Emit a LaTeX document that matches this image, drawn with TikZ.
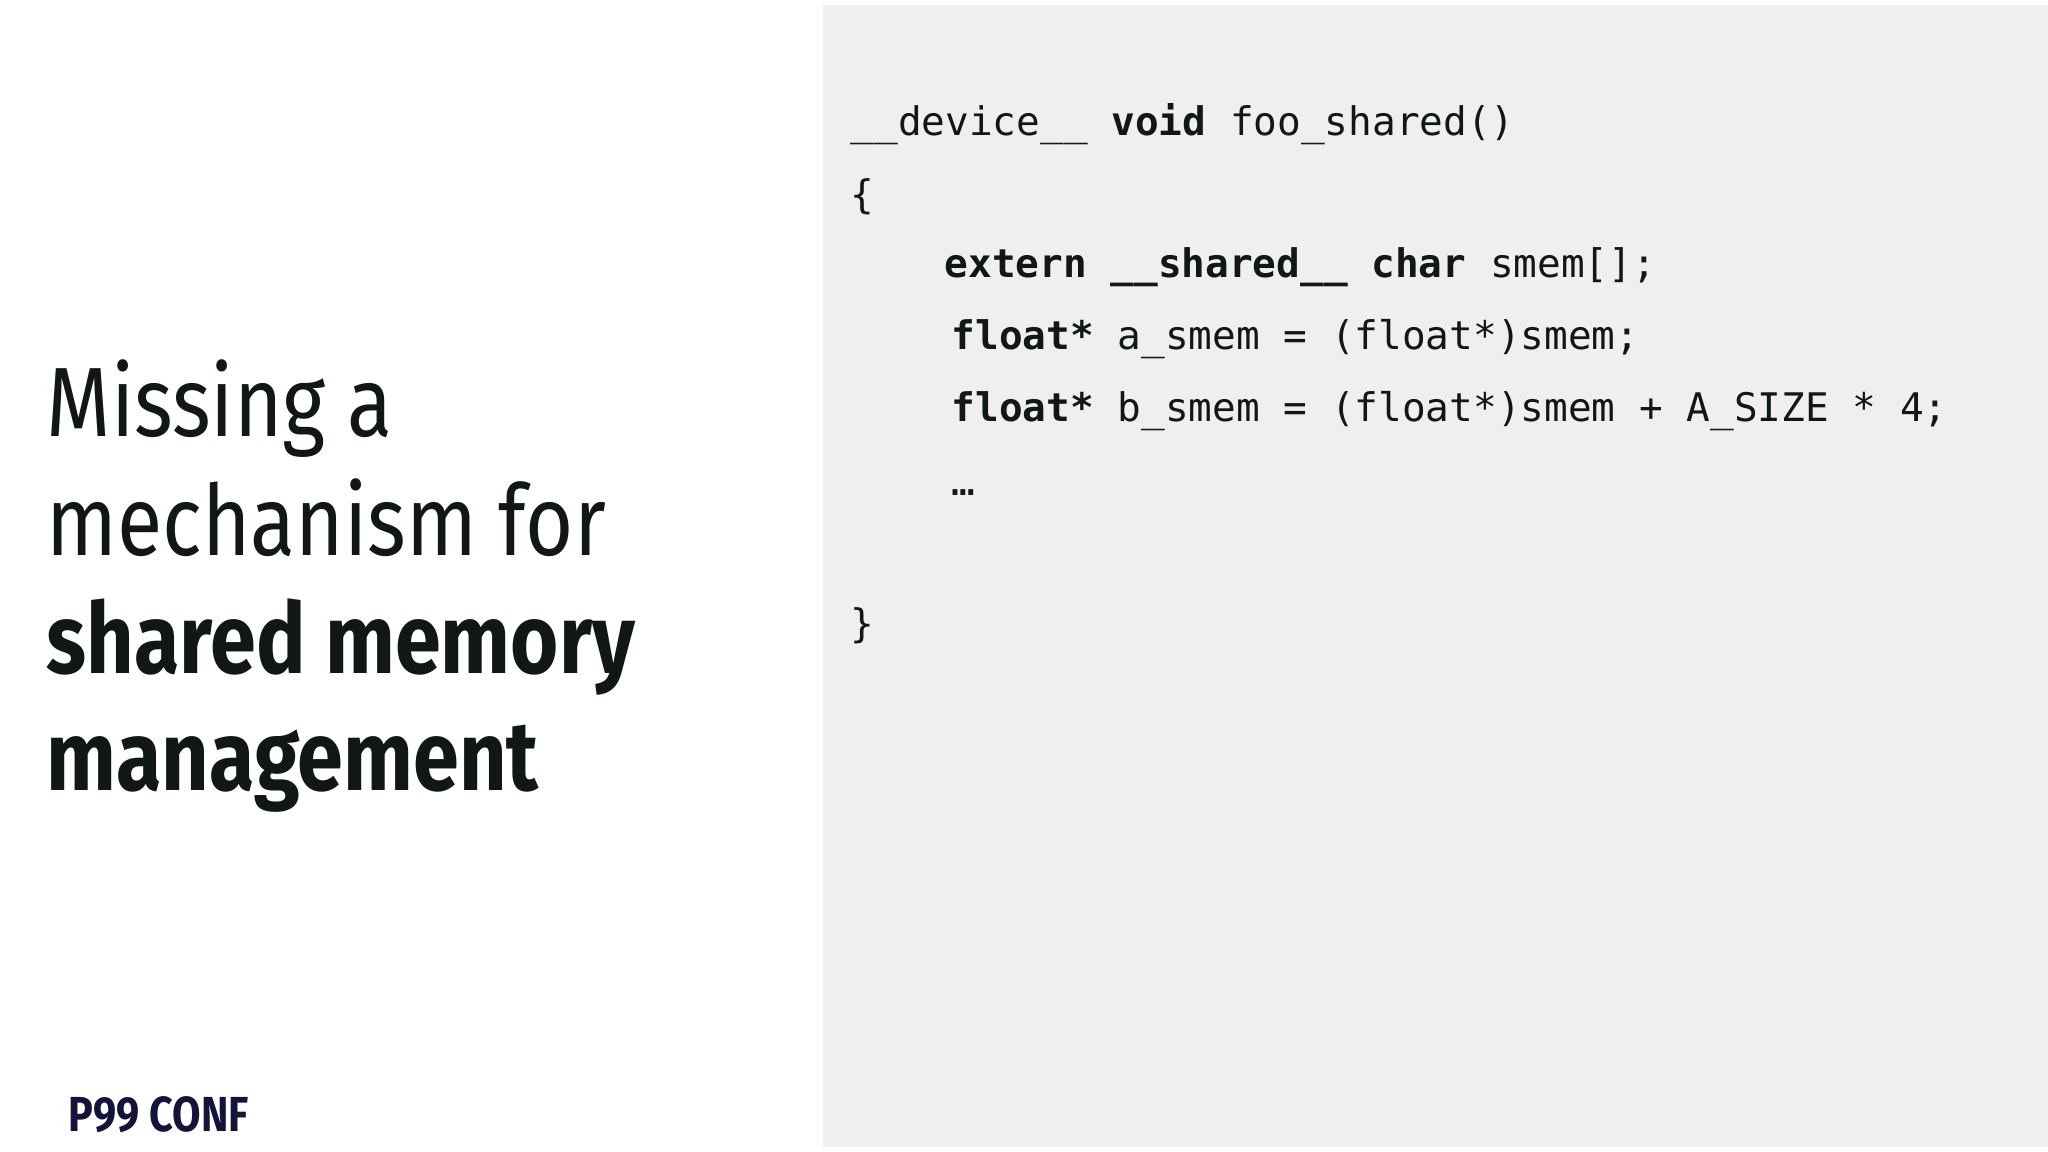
\documentclass[tikz,border=0pt]{standalone}
\usepackage{fontspec}
\setmonofont{DejaVu Sans Mono}
\newfontfamily\headfont[FakeStretch=0.84]{Fira Sans}
\definecolor{panel}{HTML}{EFEFEF}
\definecolor{ink}{HTML}{111616}
\definecolor{navy}{HTML}{14143A}
\begin{document}
\begin{tikzpicture}[x=0.01cm,y=-0.01cm]
\tikzset{code/.style={anchor=base west,inner sep=0pt,text=ink,font=\ttfamily\fontsize{11.2}{13}\selectfont},
 head/.style={anchor=base west,inner sep=0pt,text=ink,font=\headfont\fontsize{28}{34}\selectfont}}
\useasboundingbox (0,0) rectangle (2048,1152);
\fill[white] (0,0) rectangle (2048,1152);
\fill[panel] (823,5) rectangle (2048,1147);
\node[head] (h1) at (46,437) {Missing a};
\node[head] (h2) at (46,555) {mechanism for};
\node[head] (h3) at (46,673) {\bfseries shared memory};
\node[head] (h4) at (46,790) {\bfseries management};
\node[anchor=base west,inner sep=0pt,text=navy,font=\headfont\bfseries\fontsize{14}{16}\selectfont] (logo) at (68,1131) {P99 CONF};
\node[code] (c1) at (850,136) {\_\_device\_\_ \textbf{void} foo\_shared()};
\node[code] (c2) at (850,209) {\{};
\node[code] (c3) at (944,278) {\textbf{extern} \textbf{\_\_shared\_\_} \textbf{char} smem[];};
\node[code] (c4) at (951,350) {\textbf{float*} a\_smem = (float*)smem;};
\node[code] (c5) at (951,422) {\textbf{float*} b\_smem = (float*)smem + A\_SIZE * 4;};
\node[code] (c6) at (951,496) {…};
\node[code] (c7) at (850,637) {\}};
\end{tikzpicture}
\end{document}
